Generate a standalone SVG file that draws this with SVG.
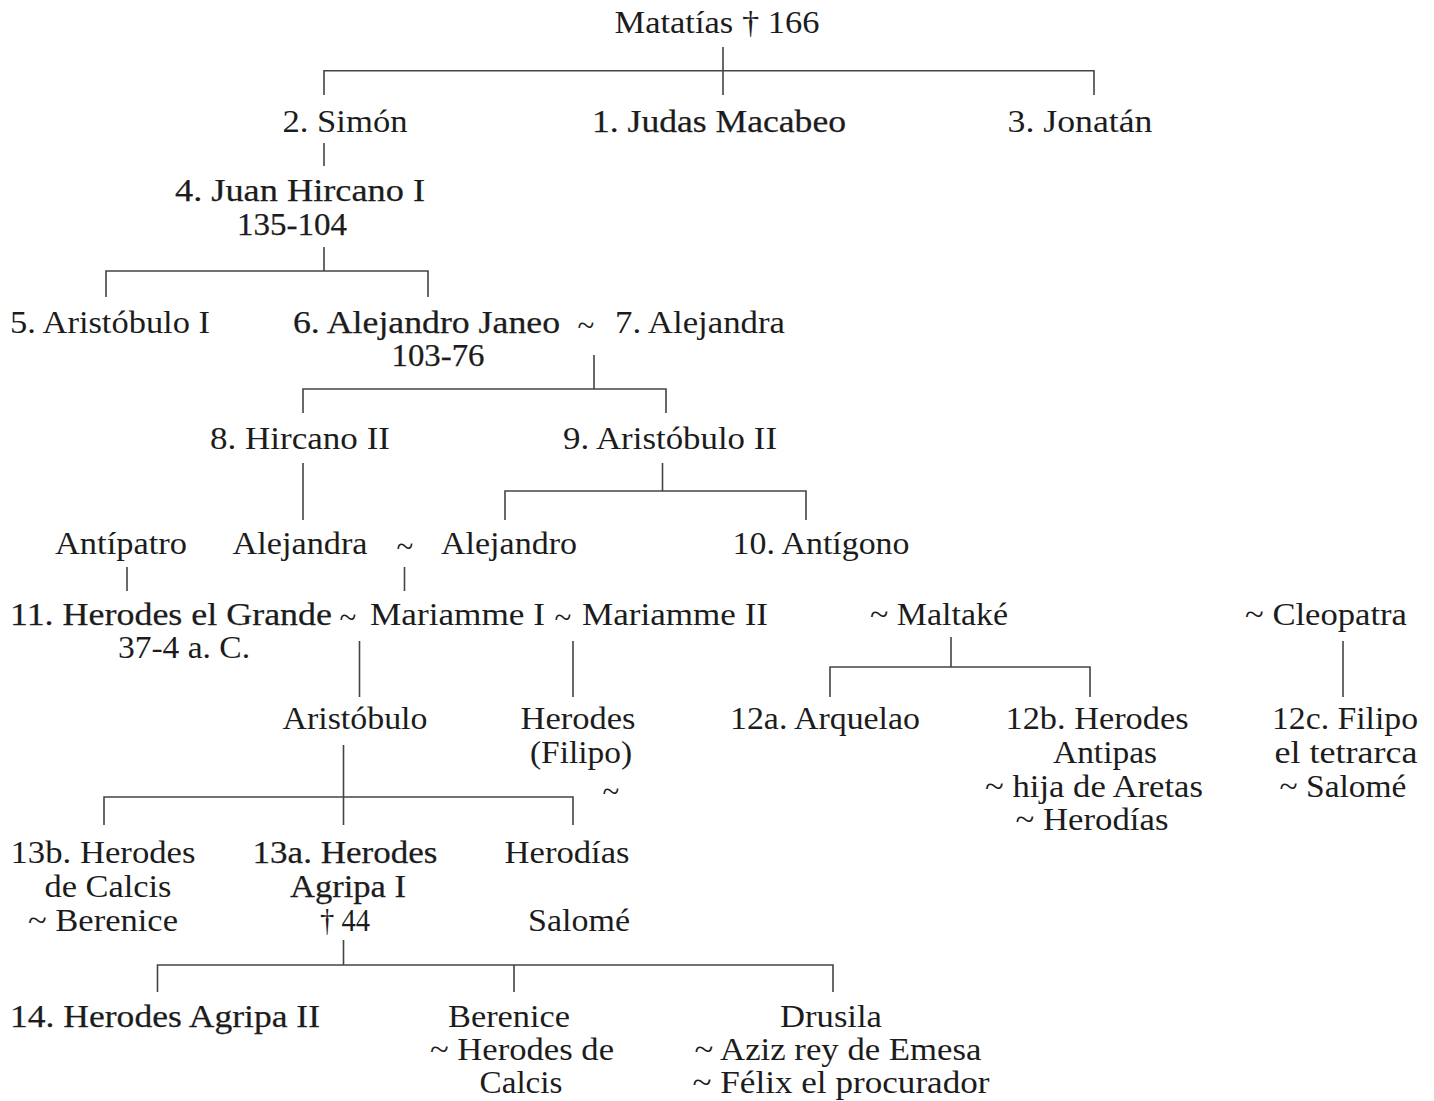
<svg xmlns="http://www.w3.org/2000/svg" width="1434" height="1101" viewBox="0 0 1434 1101">
<style>
text{font-family:"Liberation Serif","Times New Roman",serif;font-size:31px;fill:#1c1c1c;text-anchor:middle}
.b{stroke:#1c1c1c;stroke-width:0.25}
.c path{fill:none;stroke:#444;stroke-width:1.6}
</style>
<rect width="1434" height="1101" fill="#fff"/>
<g class="c" id="connectors">
<path d="M324,95 V70.7 H1094 V95 M723,47 V95"/>
<path d="M324,143 V166"/>
<path d="M324,247 V271 M106,297 V271 H428 V297"/>
<path d="M594,355 V389 M303,413 V389 H666 V413"/>
<path d="M303,463 V520"/>
<path d="M662.5,463 V491 M505,520 V491 H806 V520"/>
<path d="M127,567 V591 M404.5,567 V591"/>
<path d="M359.5,641 V697 M573,641 V697"/>
<path d="M951,637 V667 M830,697 V667 H1090 V697"/>
<path d="M1343,641 V697"/>
<path d="M343.5,745 V825 M104,825 V797 H573 V825"/>
<path d="M343.5,940 V965 M157.5,992 V965 H833 V992 M514,965 V992"/>
</g>
<g id="matatias"><text x="717" y="33" textLength="205" lengthAdjust="spacingAndGlyphs">Matatías † 166</text></g>
<g id="simon"><text x="345" y="132" textLength="125" lengthAdjust="spacingAndGlyphs">2. Simón</text></g>
<g id="judas"><text class="b" x="719" y="132" textLength="254" lengthAdjust="spacingAndGlyphs">1. Judas Macabeo</text></g>
<g id="jonatan"><text x="1080" y="132" textLength="145" lengthAdjust="spacingAndGlyphs">3. Jonatán</text></g>
<g id="juan-hircano"><text class="b" x="300" y="201" textLength="250" lengthAdjust="spacingAndGlyphs">4. Juan Hircano I</text><text class="b" x="292" y="235" textLength="110" lengthAdjust="spacingAndGlyphs">135-104</text></g>
<g id="aristobulo1"><text x="110" y="333" textLength="200" lengthAdjust="spacingAndGlyphs">5. Aristóbulo I</text></g>
<g id="alejandro-janeo"><text class="b" x="426.5" y="333" textLength="267" lengthAdjust="spacingAndGlyphs">6. Alejandro Janeo</text><text class="b" x="438" y="366" textLength="93" lengthAdjust="spacingAndGlyphs">103-76</text></g>
<g id="tilde1"><text x="586" y="336">~</text></g>
<g id="alejandra7"><text x="700" y="333" textLength="170" lengthAdjust="spacingAndGlyphs">7. Alejandra</text></g>
<g id="hircano2"><text x="300" y="449" textLength="180" lengthAdjust="spacingAndGlyphs">8. Hircano II</text></g>
<g id="aristobulo2"><text x="670" y="449" textLength="214" lengthAdjust="spacingAndGlyphs">9. Aristóbulo II</text></g>
<g id="antipatro"><text x="121" y="554" textLength="132" lengthAdjust="spacingAndGlyphs">Antípatro</text></g>
<g id="alejandra"><text x="300" y="554" textLength="135" lengthAdjust="spacingAndGlyphs">Alejandra</text></g>
<g id="tilde2"><text x="405" y="557">~</text></g>
<g id="alejandro"><text x="509" y="554" textLength="136" lengthAdjust="spacingAndGlyphs">Alejandro</text></g>
<g id="antigono"><text x="821" y="554" textLength="177" lengthAdjust="spacingAndGlyphs">10. Antígono</text></g>
<g id="herodes-grande"><text class="b" x="171" y="625" textLength="322" lengthAdjust="spacingAndGlyphs">11. Herodes el Grande</text><text x="184" y="658" textLength="132" lengthAdjust="spacingAndGlyphs">37-4 a. C.</text></g>
<g id="tilde3"><text x="348" y="628">~</text></g>
<g id="mariamme1"><text x="457.5" y="625" textLength="175" lengthAdjust="spacingAndGlyphs">Mariamme I</text></g>
<g id="tilde4"><text x="563" y="628">~</text></g>
<g id="mariamme2"><text x="675" y="625" textLength="186" lengthAdjust="spacingAndGlyphs">Mariamme II</text></g>
<g id="maltake"><text x="939" y="625" textLength="138" lengthAdjust="spacingAndGlyphs">~ Maltaké</text></g>
<g id="cleopatra"><text x="1326" y="625" textLength="162" lengthAdjust="spacingAndGlyphs">~ Cleopatra</text></g>
<g id="aristobulo"><text x="355" y="729" textLength="145" lengthAdjust="spacingAndGlyphs">Aristóbulo</text></g>
<g id="herodes-filipo"><text x="578" y="729" textLength="115" lengthAdjust="spacingAndGlyphs">Herodes</text><text x="581" y="763" textLength="102" lengthAdjust="spacingAndGlyphs">(Filipo)</text><text x="611" y="802" font-size="26">~</text></g>
<g id="arquelao"><text x="825" y="729" textLength="190" lengthAdjust="spacingAndGlyphs">12a. Arquelao</text></g>
<g id="antipas"><text x="1097" y="729" textLength="183" lengthAdjust="spacingAndGlyphs">12b. Herodes</text><text x="1105" y="763" textLength="104" lengthAdjust="spacingAndGlyphs">Antipas</text><text x="1094" y="797" textLength="218" lengthAdjust="spacingAndGlyphs">~ hija de Aretas</text><text x="1092" y="830" textLength="153" lengthAdjust="spacingAndGlyphs">~ Herodías</text></g>
<g id="filipo"><text x="1345" y="729" textLength="146" lengthAdjust="spacingAndGlyphs">12c. Filipo</text><text x="1346" y="763" textLength="143" lengthAdjust="spacingAndGlyphs">el tetrarca</text><text x="1343" y="797" textLength="127" lengthAdjust="spacingAndGlyphs">~ Salomé</text></g>
<g id="herodes-calcis"><text x="103" y="863" textLength="185" lengthAdjust="spacingAndGlyphs">13b. Herodes</text><text x="108" y="897" textLength="127" lengthAdjust="spacingAndGlyphs">de Calcis</text><text x="103" y="931" textLength="150" lengthAdjust="spacingAndGlyphs">~ Berenice</text></g>
<g id="agripa1"><text class="b" x="345" y="863" textLength="185" lengthAdjust="spacingAndGlyphs">13a. Herodes</text><text class="b" x="348" y="897" textLength="116" lengthAdjust="spacingAndGlyphs">Agripa I</text><text x="345" y="931" textLength="50" lengthAdjust="spacingAndGlyphs">† 44</text></g>
<g id="herodias"><text x="567" y="863" textLength="125" lengthAdjust="spacingAndGlyphs">Herodías</text><text x="579" y="931" textLength="102" lengthAdjust="spacingAndGlyphs">Salomé</text></g>
<g id="agripa2"><text class="b" x="165" y="1027" textLength="310" lengthAdjust="spacingAndGlyphs">14. Herodes Agripa II</text></g>
<g id="berenice"><text x="509" y="1027" textLength="122" lengthAdjust="spacingAndGlyphs">Berenice</text><text x="522" y="1060" textLength="184" lengthAdjust="spacingAndGlyphs">~ Herodes de</text><text x="521" y="1093" textLength="83" lengthAdjust="spacingAndGlyphs">Calcis</text></g>
<g id="drusila"><text x="831" y="1027" textLength="102" lengthAdjust="spacingAndGlyphs">Drusila</text><text x="838" y="1060" textLength="287" lengthAdjust="spacingAndGlyphs">~ Aziz rey de Emesa</text><text x="841" y="1093" textLength="297" lengthAdjust="spacingAndGlyphs">~ Félix el procurador</text></g>
</svg>
